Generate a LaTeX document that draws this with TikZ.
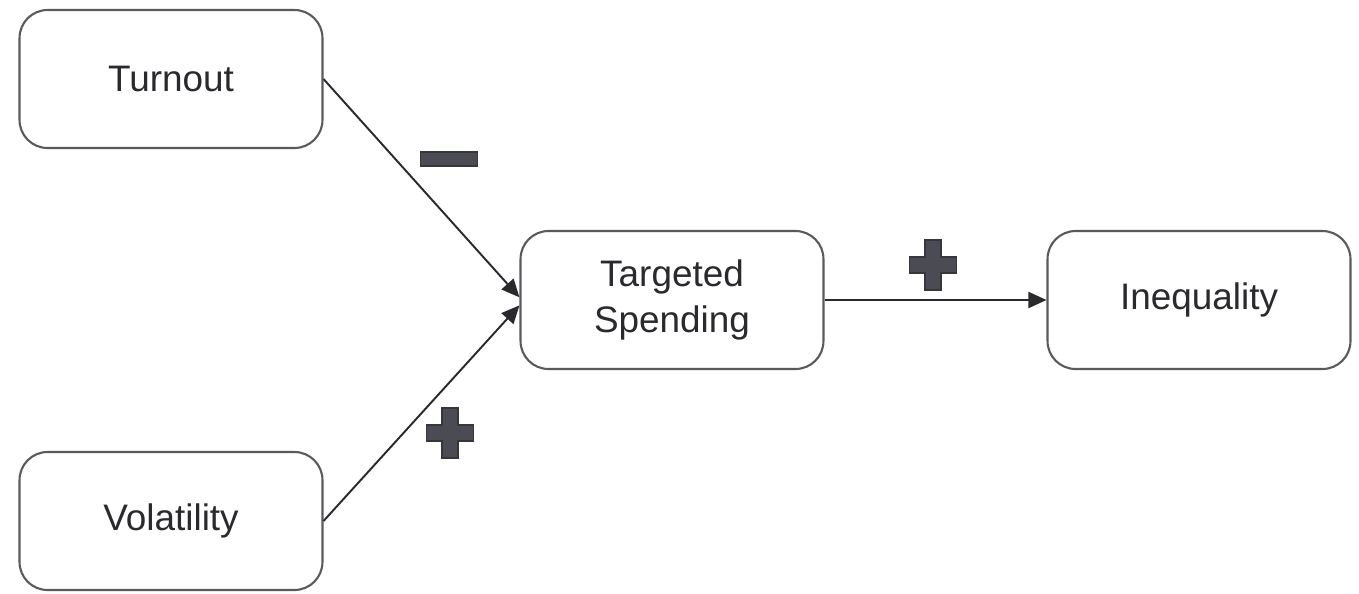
\documentclass[tikz,border=0pt]{standalone}
\usepackage{fontspec}
\setmainfont{Liberation Sans}
\usepackage{tikz}
\usetikzlibrary{positioning,calc,arrows.meta}

\definecolor{boxline}{HTML}{5A5A5E}
\definecolor{signfill}{HTML}{4B4B53}
\definecolor{signline}{HTML}{36363C}
\definecolor{textcol}{HTML}{2A2A2E}

\tikzset{
	factor/.style={draw=boxline, line width=1.2pt, rounded corners=0.56cm,
		minimum width=6.06cm, minimum height=2.76cm, align=center,
		text=textcol, font=\fontsize{21}{26}\selectfont},
	effect/.style={draw=textcol, line width=1.1pt,
		-{Triangle[length=0.36cm, width=0.32cm]}},
	pics/plussign/.style={code={
		\filldraw[fill=signfill, draw=signline, line width=0.6pt]
		(-8,-25) -- (8,-25) -- (8,-8) -- (23.5,-8) -- (23.5,8)
		-- (8,8) -- (8,25) -- (-8,25) -- (-8,8) -- (-23.5,8)
		-- (-23.5,-8) -- (-8,-8) -- cycle;}},
	pics/minussign/.style={code={
		\filldraw[fill=signfill, draw=signline, line width=0.6pt]
		(-28.5,-7) rectangle (28.5,7);}}
}

\begin{document}
\begin{tikzpicture}[x=0.02cm, y=-0.02cm]
	\useasboundingbox (0,0) rectangle (1359,593);
	\node[factor] (turnout) at (171,79) {Turnout};
	\node[factor] (volat) at (171,521) {Volatility};
	\node[factor] (spend) at (672,300) {Targeted\\Spending};
	\node[factor] (ineq) at (1199,300) {Inequality};
	\draw[effect] (turnout.east) -- (spend.179);
	\draw[effect] (volat.east) -- (spend.182);
	\draw[effect] (spend.east) -- (ineq.west);
	% signs of the effects
	\coordinate (minus) at (449,159);
	\coordinate (plusA) at (450,433);
	\coordinate (plusB) at (933,265);
	\pic at (minus) {minussign};
	\pic at (plusA) {plussign};
	\pic at (plusB) {plussign};
\end{tikzpicture}
\end{document}
